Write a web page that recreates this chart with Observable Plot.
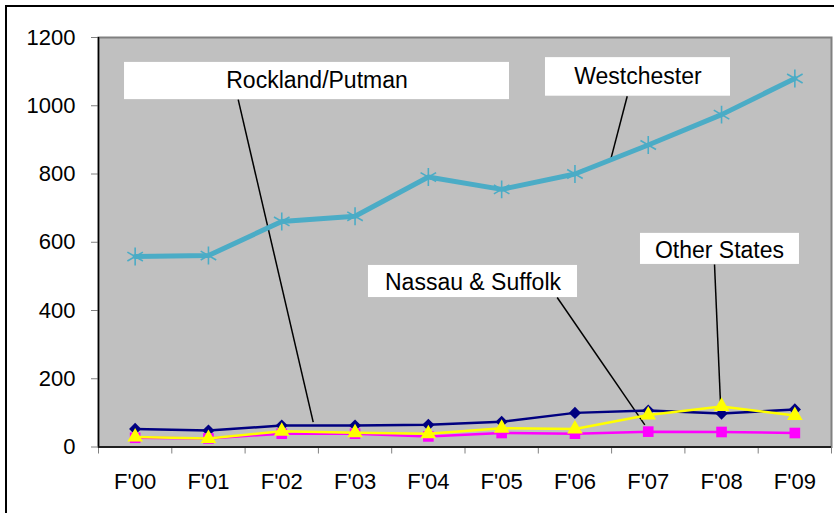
<!DOCTYPE html>
<html>
<head>
<meta charset="utf-8">
<script src="https://cdn.jsdelivr.net/npm/d3@7"></script>
<script src="https://cdn.jsdelivr.net/npm/@observablehq/plot@0.6"></script>
<style>
  html, body { margin: 0; padding: 0; background: white; }
  #wrap { position: relative; width: 834px; height: 513px; overflow: hidden; }
  #border { position: absolute; left: 5px; top: 5px; width: 1000px; height: 1000px;
            border-left: 2px solid #000; border-top: 2px solid #000; pointer-events: none; }
</style>
</head>
<body>
<div id="wrap"><div id="border"></div></div>
<script>
const categories = ["F'00","F'01","F'02","F'03","F'04","F'05","F'06","F'07","F'08","F'09"];
const westchester = [558, 561, 661, 676, 791, 755, 800, 885, 974, 1080];
const rocklandPutman = [53, 48, 63, 63, 65, 74, 100, 107, 98, 110];
const nassauSuffolk = [27, 25, 39, 39, 31, 41, 39, 45, 44, 41];
const otherStates = [29, 25, 46, 42, 39, 55, 53, 94, 119, 92];
const yTicks = [0, 200, 400, 600, 800, 1000, 1200];

// annotation callouts (in data units: x = category index, y = value)
const labels = [
  {text: "Rockland/Putman", x1: -0.145, x2: 5.107, y1: 1018, y2: 1127, tx: 2.481, ty: 1073, lx1: 1.406, ly1: 1018, lx2: 2.429, ly2: 73},
  {text: "Westchester", x1: 5.598, x2: 8.122, y1: 1028, y2: 1141, tx: 6.86, ty: 1086, lx1: 6.713, ly1: 1028, lx2: 6.485, ly2: 840},
  {text: "Other States", x1: 6.894, x2: 9.063, y1: 535, y2: 626, tx: 7.972, ty: 575, lx1: 7.904, ly1: 535, lx2: 7.986, ly2: 127},
  {text: "Nassau & Suffolk", x1: 3.183, x2: 6.035, y1: 438, y2: 532, tx: 4.609, ty: 482, lx1: 5.758, ly1: 438, lx2: 6.953, ly2: 65}
];

const toRows = (vals) => vals.map((v, i) => ({i, value: v, cat: categories[i]}));
const west = toRows(westchester), rock = toRows(rocklandPutman), nass = toRows(nassauSuffolk), other = toRows(otherStates);
const edges = d3.range(categories.length + 1).map(k => k - 0.5);

const chart = Plot.plot({
  width: 834,
  height: 513,
  marginLeft: 98,
  marginRight: 3,
  marginTop: 37,
  marginBottom: 66.5,
  style: {fontFamily: "'Liberation Sans', Arial, sans-serif", fontSize: "22px", background: "transparent", color: "black"},
  x: {type: "linear", domain: [-0.5, categories.length - 0.5]},
  y: {domain: [0, 1200]},
  marks: [
    Plot.frame({fill: "#c0c0c0", stroke: "#808080", strokeWidth: 2}),
    Plot.axisY({ticks: yTicks, tickSize: 7, tickPadding: 16, stroke: "#808080", label: null, tickFormat: d => String(d)}),
    Plot.axisX({ticks: edges, tickSize: 7, tickFormat: () => "", stroke: "#808080", label: null}),
    Plot.axisX({ticks: d3.range(categories.length), tickSize: 0, tickPadding: 26, tickFormat: i => categories[i], label: null}),
    Plot.ruleY([0], {stroke: "#000", strokeWidth: 1.5}),
    Plot.ruleX([-0.5], {stroke: "#000", strokeWidth: 1.5}),
    // callout boxes and leader lines
    Plot.rect(labels, {x1: "x1", x2: "x2", y1: "y1", y2: "y2", fill: "white"}),
    Plot.link(labels, {x1: "lx1", y1: "ly1", x2: "lx2", y2: "ly2", stroke: "black", strokeWidth: 1.5}),
    Plot.text(labels, {x: "tx", y: "ty", text: "text", fontSize: 23, fill: "black"}),
    // series
    Plot.line(rock, {x: "i", y: "value", stroke: "#000080", strokeWidth: 2.5}),
    Plot.dot(rock, {x: "i", y: "value", symbol: "diamond2", fill: "#000080", r: 5.5}),
    Plot.line(nass, {x: "i", y: "value", stroke: "#ff00ff", strokeWidth: 2.5}),
    Plot.dot(nass, {x: "i", y: "value", symbol: "square", fill: "#ff00ff", r: 6}),
    Plot.line(other, {x: "i", y: "value", stroke: "#ffff00", strokeWidth: 2.5}),
    Plot.dot(other, {x: "i", y: "value", symbol: "triangle", fill: "#ffff00", r: 5.8}),
    Plot.line(west, {x: "i", y: "value", stroke: "#4bacc6", strokeWidth: 5}),
    Plot.dot(west, {x: "i", y: "value", symbol: "asterisk", stroke: "#4bacc6", strokeWidth: 1.6, r: 8.5})
  ]
});
document.getElementById("wrap").insertBefore(chart, document.getElementById("border"));
</script>
</body>
</html>
